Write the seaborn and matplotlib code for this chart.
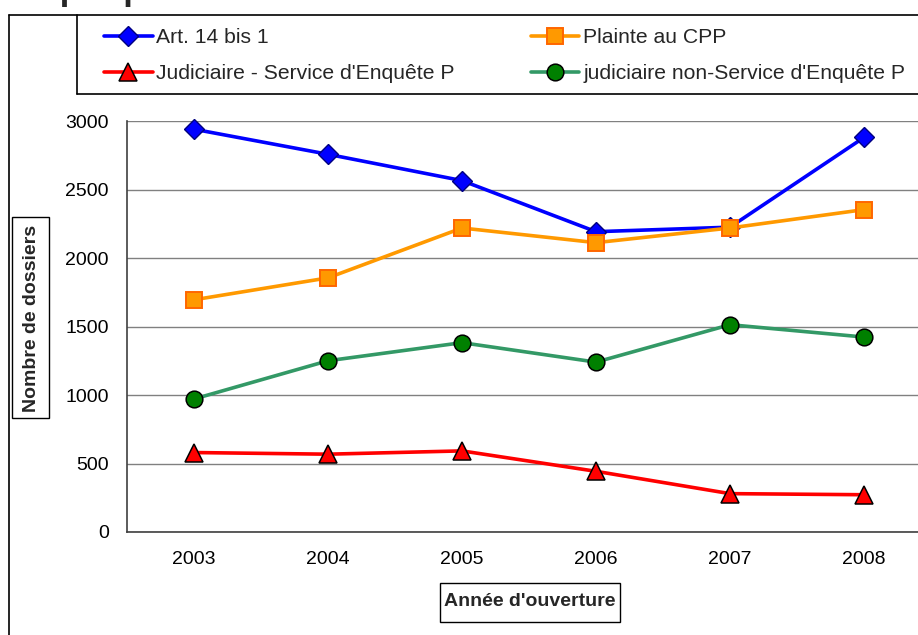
import numpy as np
import pandas as pd
import matplotlib
matplotlib.use("Agg")
import matplotlib.pyplot as plt
from matplotlib.lines import Line2D
from matplotlib.patches import Rectangle
from matplotlib.ticker import FixedLocator
import seaborn as sns

years = ["2003", "2004", "2005", "2006", "2007", "2008"]
art14 = [2940, 2757, 2565, 2192, 2225, 2880]
plainte = [1695, 1855, 2219, 2112, 2219, 2353]
judic_sep = [580, 568, 592, 443, 280, 272]
judic_non = [971, 1250, 1382, 1240, 1513, 1423]
series_names = ["Art. 14 bis 1", "Plainte au CPP",
                "Judiciaire - Service d'Enquête P",
                "judiciaire non-Service d'Enquête P"]
yticks = [0, 500, 1000, 1500, 2000, 2500, 3000]
title = "Graphique 3"
xlabel = "Année d'ouverture"
ylabel = "Nombre de dossiers"

sns.set_style("white")
plt.rcParams["font.family"] = ["Liberation Sans", "DejaVu Sans"]

W, H = 918, 635
fig = plt.figure(figsize=(W / 100, H / 100), dpi=100)

def fx(px):
    return px / W

def fy(py):
    return 1 - py / H

# axes: x=-0.5 at px 127, 5.5 at px 931 ; y=0 at 532, 3000 at 121
ax = fig.add_axes([fx(127), fy(532), (931 - 127) / W, (532 - 121) / H])

styles = [
    dict(color="#0000FF", marker="D", markersize=10, markerfacecolor="#0000FF",
         markeredgecolor="#000080", markeredgewidth=1.0, linewidth=2.6),
    dict(color="#FF9900", marker="s", markersize=12, markerfacecolor="#FF9900",
         markeredgecolor="#FF6600", markeredgewidth=1.4, linewidth=2.6),
    dict(color="#FF0000", marker="^", markersize=13, markerfacecolor="#FF0000",
         markeredgecolor="#000000", markeredgewidth=1.1, linewidth=2.6),
    dict(color="#339966", marker="o", markersize=12, markerfacecolor="#008000",
         markeredgecolor="#000000", markeredgewidth=1.1, linewidth=2.6),
]
data = [art14, plainte, judic_sep, judic_non]

for name, vals, st in zip(series_names, data, styles):
    df = pd.DataFrame({"year": years, "value": vals})
    sns.lineplot(data=df, x="year", y="value", ax=ax, sort=False,
                 label=name, legend=False, zorder=3, clip_on=False, **st)

ax.set_xlim(-0.5, 5.5)
ax.set_ylim(0, 3000)
ax.set_yticks(yticks)
ax.set_yticklabels([str(v) for v in yticks])
ax.set_xticks(range(len(years)))
ax.set_xticklabels(years)
ax.xaxis.set_minor_locator(FixedLocator(np.arange(-0.5, len(years), 1.0)))
ax.tick_params(axis="x", which="major", length=0, pad=14, labelsize=14, colors="black")
ax.tick_params(axis="x", which="minor", length=6, width=1.0, color="#404040", direction="out")
ax.tick_params(axis="y", which="major", length=6, width=1.0, color="#404040",
               direction="out", pad=7, labelsize=14, labelcolor="black")
ax.set_xlabel("")
ax.set_ylabel("")
ax.yaxis.grid(True, color="#808080", linewidth=1.0)
ax.xaxis.grid(False)
ax.set_axisbelow(True)
for s in ["top", "right"]:
    ax.spines[s].set_visible(False)
for s in ["left", "bottom"]:
    ax.spines[s].set_color("#404040")
    ax.spines[s].set_linewidth(1.2)

# chart frame and legend box
def fline(x0, y0, x1, y1, lw=1.2):
    fig.add_artist(Line2D([fx(x0), fx(x1)], [fy(y0), fy(y1)], color="black",
                          linewidth=lw, transform=fig.transFigure))

fline(9, 15, 918, 15)
fline(9, 15, 9, 635)
fline(77, 15, 77, 94)
fline(77, 94, 918, 94)

lines = ax.get_lines()[:4]
order = [0, 2, 1, 3]  # column-major fill -> rows: (0,1), (2,3)
leg = fig.legend(handles=[lines[i] for i in order],
                 labels=[series_names[i] for i in order], ncol=2, frameon=False,
                 loc="upper left", bbox_to_anchor=(fx(104), fy(28)),
                 borderaxespad=0, borderpad=0, fontsize=15.2,
                 handlelength=2.3, handletextpad=0.18, columnspacing=3.6,
                 labelspacing=0.8)

# title (clipped at top, as in the source)
fig.text(fx(0), fy(0), title, fontsize=25, fontweight="bold", va="baseline", ha="left")

# axis labels in boxes
fig.add_artist(Rectangle((fx(11.5), fy(418)), fx(49) - fx(11.5), fy(217) - fy(418),
                         transform=fig.transFigure, facecolor="white",
                         edgecolor="black", linewidth=1.0, zorder=2))
fig.text(fx(31), fy(318), ylabel, rotation=90, fontsize=14, fontweight="bold",
         ha="center", va="center", zorder=3)
fig.add_artist(Rectangle((fx(439.5), fy(622)), fx(620) - fx(439.5), fy(583) - fy(622),
                         transform=fig.transFigure, facecolor="white",
                         edgecolor="black", linewidth=1.0, zorder=2))
fig.text(fx(530), fy(601), xlabel, fontsize=14, fontweight="bold",
         ha="center", va="center", zorder=3)

fig.savefig("out.png", dpi=100)
